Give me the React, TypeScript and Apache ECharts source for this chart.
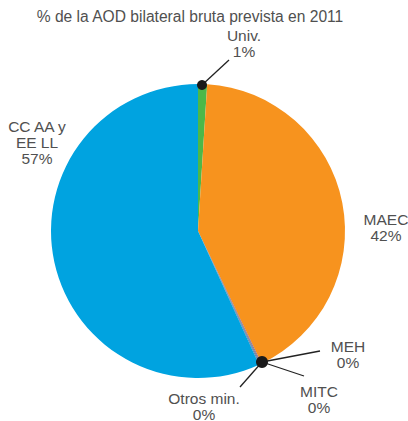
import React, { useEffect, useRef } from "react";
import * as echarts from "echarts";

const title = "% de la AOD bilateral bruta prevista en 2011";
const categories = ["Univ.", "MAEC", "MEH", "MITC", "Otros min.", "CC AA y\nEE LL"];
const values = [1, 42, 0.1, 0.1, 0.1, 57];
const shownPercents = ["1%", "42%", "0%", "0%", "0%", "57%"];
const colors = ["#4DB848", "#F7931E", "#8a6a8a", "#6d6d8d", "#5a7aa0", "#00A3E0"];
// label anchor positions (center of label block)
const labelPos: [number, number][] = [
  [244, 43],
  [386, 227],
  [348, 354],
  [319, 399],
  [204, 406],
  [37, 142],
];

export default function App() {
  const ref = useRef<HTMLDivElement>(null);
  useEffect(() => {
    document.body.style.margin = "0";
    const chart = echarts.init(ref.current!, null, { renderer: "svg" });
    const textColor = "#505050";
    const font = "Liberation Sans, Arial, Helvetica, sans-serif";
    chart.setOption({
      animation: false,
      title: {
        text: title,
        left: 190,
        top: 0,
        padding: [8, 0, 0, 0],
        textAlign: "center",
        textStyle: { fontSize: 15.6, lineHeight: 16, fontWeight: "normal", color: textColor, fontFamily: font },
      },
      series: [
        {
          type: "pie",
          center: [198, 231],
          radius: 147,
          startAngle: 90,
          clockwise: true,
          avoidLabelOverlap: false,
          minAngle: 0,
          itemStyle: { borderWidth: 0 },
          emphasis: { disabled: true },
          data: categories.map((c, i) => ({
            name: c,
            value: values[i],
            itemStyle: { color: colors[i] },
          })),
          label: {
            show: true,
            position: "outside",
            formatter: (p: any) => `${categories[p.dataIndex]}\n${shownPercents[p.dataIndex]}`,
            fontSize: 15.5,
            lineHeight: 16,
            color: textColor,
            fontFamily: font,
            align: "center",
          },
          labelLine: { show: false },
          labelLayout: (p: any) => ({
            x: labelPos[p.dataIndex][0],
            y: labelPos[p.dataIndex][1],
            align: "center",
            verticalAlign: "middle",
          }),
        },
      ],
      graphic: [
        { type: "line", shape: { x1: 202, y1: 85, x2: 229, y2: 60 }, style: { stroke: "#222", lineWidth: 1.3 } },
        { type: "line", shape: { x1: 262, y1: 362, x2: 320, y2: 351 }, style: { stroke: "#222", lineWidth: 1.3 } },
        { type: "line", shape: { x1: 262, y1: 362, x2: 304, y2: 376 }, style: { stroke: "#222", lineWidth: 1.3 } },
        { type: "line", shape: { x1: 262, y1: 362, x2: 240, y2: 387 }, style: { stroke: "#222", lineWidth: 1.3 } },
        { type: "circle", shape: { cx: 202, cy: 85, r: 5 }, style: { fill: "#1a1a1a" }, z: 10 },
        { type: "circle", shape: { cx: 262, cy: 362, r: 6 }, style: { fill: "#1a1a1a" }, z: 10 },
      ],
    });
    return () => chart.dispose();
  }, []);
  return <div ref={ref} style={{ width: 408, height: 421 }} />;
}
